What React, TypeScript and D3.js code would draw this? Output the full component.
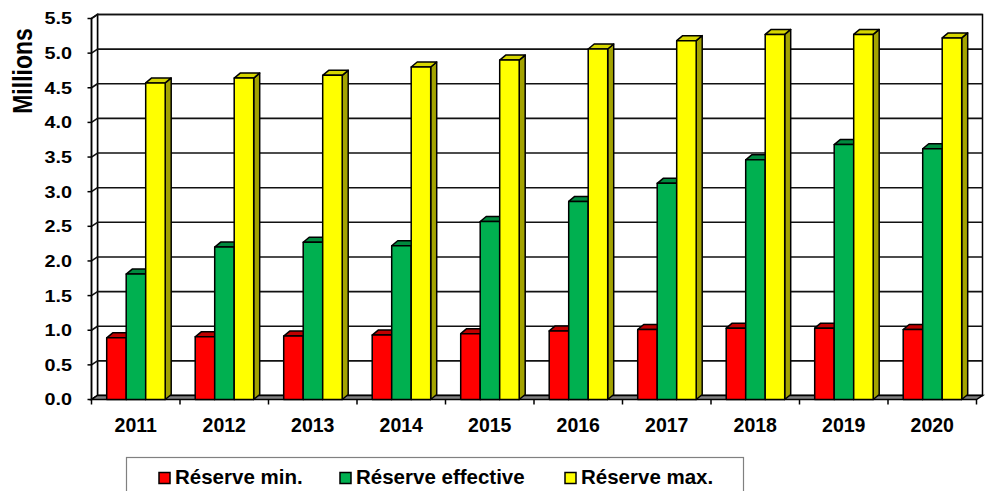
import React from 'react';
import * as d3 from 'd3';

const years = ['2011', '2012', '2013', '2014', '2015', '2016', '2017', '2018', '2019', '2020'];
const reserveMin = [0.89, 0.905, 0.915, 0.93, 0.95, 0.99, 1.01, 1.03, 1.03, 1.01];
const reserveEffective = [1.81, 2.2, 2.27, 2.22, 2.57, 2.86, 3.12, 3.46, 3.68, 3.62];
const reserveMax = [4.57, 4.64, 4.68, 4.8, 4.9, 5.06, 5.18, 5.27, 5.27, 5.22];
const yTicks = [0, 0.5, 1, 1.5, 2, 2.5, 3, 3.5, 4, 4.5, 5, 5.5];
const seriesNames = ['Réserve min.', 'Réserve effective', 'Réserve max.'];

const series = [
  { name: seriesNames[0], values: reserveMin, front: '#ff0000', top: '#c00000', side: '#a00000' },
  { name: seriesNames[1], values: reserveEffective, front: '#00b050', top: '#008a3e', side: '#007a36' },
  { name: seriesNames[2], values: reserveMax, front: '#ffff00', top: '#d6d600', side: '#a3a300' },
];

const FONT = '"Liberation Sans", Arial, sans-serif';

const App: React.FC = () => {
  const width = 985;
  const height = 491;

  // 3D wall offset (front plane -> back plane)
  const wallDx = 6;
  const wallDy = 4;
  // bar depth
  const barDx = 6;
  const barDy = 5;

  const x = d3.scaleBand<string>().domain(years).range([91.5, 976.5]);
  const inner = d3.scaleBand<string>().domain(seriesNames).range([15.2, 73.7]);
  const y = d3.scaleLinear().domain([0, 5.5]).range([399.5, 18.5]);

  const left = x.range()[0];
  const right = x.range()[1];
  const y0 = y(0);
  const yTop = y(5.5);

  const poly = (pts: [number, number][]) => pts.map(p => p.join(',')).join(' ');

  return (
    <svg width={width} height={height} style={{ position: 'absolute', left: 0, top: 0, background: '#fff' }}>
      {/* back wall */}
      <rect
        x={left + wallDx}
        y={yTop - wallDy}
        width={right - left}
        height={y0 - yTop}
        fill="#fff"
        stroke="#000"
        strokeWidth={1.5}
      />
      {/* left wall */}
      <polygon
        points={poly([[left, y0], [left, yTop], [left + wallDx, yTop - wallDy], [left + wallDx, y0 - wallDy]])}
        fill="#fff"
        stroke="#000"
        strokeWidth={1.5}
      />
      {/* gridlines */}
      {yTicks.map(t => (
        <g key={t}>
          <line x1={left + wallDx} x2={right + wallDx} y1={y(t) - wallDy} y2={y(t) - wallDy} stroke="#111" strokeWidth={1.6} />
          <line x1={left} x2={left + wallDx} y1={y(t)} y2={y(t) - wallDy} stroke="#111" strokeWidth={1.6} />
          <line x1={left - 4} x2={left} y1={y(t)} y2={y(t)} stroke="#000" strokeWidth={1.5} />
          <text
            transform={`translate(72,${y(t)}) scale(1.2,1)`}
            dy="0.36em"
            textAnchor="end"
            fontFamily={FONT}
            fontWeight="bold"
            fontSize={16.5}
            fill="#000"
          >
            {t.toFixed(1)}
          </text>
        </g>
      ))}
      {/* floor */}
      <polygon
        points={poly([[left, y0], [right, y0], [right + wallDx, y0 - wallDy], [left + wallDx, y0 - wallDy]])}
        fill="#808080"
        stroke="#000"
        strokeWidth={1.5}
      />
      <line x1={left} x2={left} y1={yTop} y2={y0} stroke="#000" strokeWidth={1.5} />

      {/* bars */}
      {years.map((yr, i) => (
        <g key={yr}>
          {series.map(s => {
            const bx = (x(yr) || 0) + (inner(s.name) || 0);
            const bw = inner.bandwidth();
            const by = y(s.values[i]);
            return (
              <g key={s.name} stroke="#000" strokeWidth={1.5} strokeLinejoin="round">
                <polygon
                  points={poly([[bx + bw, by], [bx + bw + barDx, by - barDy], [bx + bw + barDx, y0 - barDy], [bx + bw, y0]])}
                  fill={s.side}
                />
                <polygon
                  points={poly([[bx, by], [bx + barDx, by - barDy], [bx + bw + barDx, by - barDy], [bx + bw, by]])}
                  fill={s.top}
                />
                <rect x={bx} y={by} width={bw} height={y0 - by} fill={s.front} />
              </g>
            );
          })}
        </g>
      ))}

      {/* x ticks and labels */}
      {years.map(yr => (
        <line key={yr} x1={x(yr)} x2={x(yr)} y1={y0} y2={y0 + 5} stroke="#000" strokeWidth={1.5} />
      ))}
      <line x1={right} x2={right} y1={y0} y2={y0 + 5} stroke="#000" strokeWidth={1.5} />
      {years.map(yr => (
        <text
          key={yr}
          x={(x(yr) || 0) + x.bandwidth() / 2}
          y={432}
          textAnchor="middle"
          fontFamily={FONT}
          fontWeight="bold"
          fontSize={19.5}
          fill="#000"
        >
          {yr}
        </text>
      ))}

      {/* axis title */}
      <text
        transform="translate(22,71) scale(1.2,1) rotate(-90)"
        dy="0.36em"
        textAnchor="middle"
        fontFamily={FONT}
        fontWeight="bold"
        fontSize={23}
        fill="#000"
      >
        Millions
      </text>

      {/* legend */}
      <rect x={126.5} y={457.5} width={617} height={60} fill="#fff" stroke="#808080" strokeWidth={1.2} />
      {series.map((s, i) => {
        const lx = [159, 340, 565][i];
        return (
          <g key={s.name}>
            <rect x={lx} y={472.5} width={11} height={11} fill={s.front} stroke="#000" strokeWidth={1.5} />
            <text x={lx + 16} y={484} fontFamily={FONT} fontWeight="bold" fontSize={20.5} fill="#000">
              {s.name}
            </text>
          </g>
        );
      })}
    </svg>
  );
};

export default App;
